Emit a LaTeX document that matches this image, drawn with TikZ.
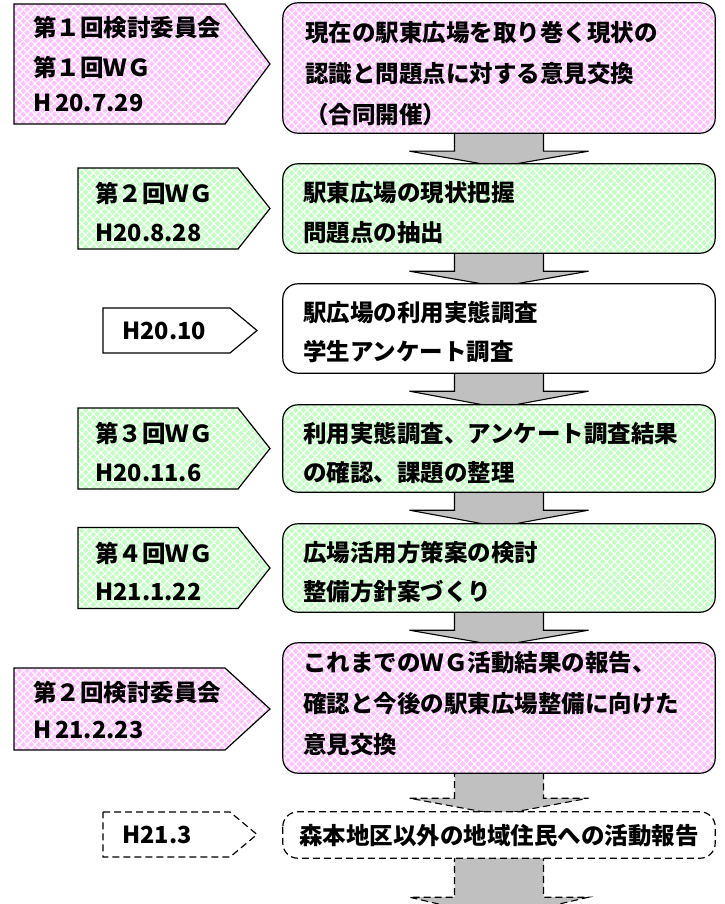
\documentclass[tikz,border=0pt]{standalone}
\usepackage{fontspec}
\setmainfont{Noto Sans CJK JP}
\usetikzlibrary{patterns.meta,calc}
\pgfdeclarelayer{bg}
\pgfsetlayers{bg,main}
\definecolor{pinkbase}{HTML}{FFC4FF}
\definecolor{greenbase}{HTML}{C4FFC4}
\definecolor{arrowgray}{HTML}{C0C0C0}
\tikzset{
  pinkfill/.style={preaction={fill=pinkbase},
    preaction={pattern={Lines[angle=45,distance=5.5pt,line width=1.1pt]},pattern color=white},
    preaction={pattern={Lines[angle=-45,distance=5.5pt,line width=1.1pt]},pattern color=white}},
  greenfill/.style={preaction={fill=greenbase},
    preaction={pattern={Lines[angle=45,distance=5.5pt,line width=1.1pt]},pattern color=white},
    preaction={pattern={Lines[angle=-45,distance=5.5pt,line width=1.1pt]},pattern color=white}},
  whitefill/.style={fill=white},
  outline/.style={draw=black,line width=1.2pt,line join=miter},
  rbox/.style={rounded corners=15pt,minimum width=432pt,inner sep=0pt},
  rline/.style={outline,rounded corners=15pt},
  dashline/.style={dash pattern=on 7pt off 4pt},
  txt/.style={inner sep=0pt,anchor=west,font=\fontsize{23.5pt}{28pt}\selectfont\bfseries},
  blockarrow/.style={fill=arrowgray,draw=black,line width=1.1pt,line join=miter}
}
\newcommand\blkarrow[4]{%
  \path[blockarrow,#4] ([xshift=-44.5pt,yshift=3pt]#1.south) -- ([xshift=-44.5pt,yshift=-#3pt]#1.south)
    -- ([xshift=-89.5pt,yshift=-#3pt]#1.south) -- ([yshift=-3pt]#2.north)
    -- ([xshift=89.5pt,yshift=-#3pt]#1.south) -- ([xshift=44.5pt,yshift=-#3pt]#1.south)
    -- ([xshift=44.5pt,yshift=3pt]#1.south);}
% pentagon: fill style, x left, x rect end, x tip, y top, y bottom, extra line style
\newcommand\pent[7]{%
  \path[#1] (#2,#5) -- (#3,#5) -- (#4,{(#5+#6)/2}) -- (#3,#6) -- (#2,#6) -- cycle;
  \draw[outline,#7] (#2,#5) -- (#3,#5) -- (#4,{(#5+#6)/2}) -- (#3,#6) -- (#2,#6) -- cycle;}
\newcommand\rframe[2]{\draw[rline,#2] (#1.north west) rectangle (#1.south east);}
\begin{document}
\begin{tikzpicture}[x=1pt,y=-1pt]
\useasboundingbox (0,0) rectangle (724,904);
% right boxes
\node[rbox,pinkfill,minimum height=130pt] (r1) at (499,68) {};
\node[rbox,greenfill,minimum height=89pt] (r2) at (499,208.5) {};
\node[rbox,whitefill,minimum height=89pt] (r3) at (499,328.5) {};
\node[rbox,greenfill,minimum height=87pt] (r4) at (499,448.5) {};
\node[rbox,greenfill,minimum height=88pt] (r5) at (499,568) {};
\node[rbox,pinkfill,minimum height=130pt] (r6) at (499,708) {};
\node[rbox,whitefill,minimum height=46pt] (r7) at (499,835) {};
\rframe{r1}{}
\rframe{r2}{}
\rframe{r3}{}
\rframe{r4}{}
\rframe{r5}{}
\rframe{r6}{}
\rframe{r7}{dashline}
\coordinate (fin) at (499,918);
% block arrows behind the boxes
\begin{pgfonlayer}{bg}
\blkarrow{r1}{r2}{18}{}
\blkarrow{r2}{r3}{18}{}
\blkarrow{r3}{r4}{18}{}
\blkarrow{r4}{r5}{18}{}
\blkarrow{r5}{r6}{18}{}
\blkarrow{r6}{r7}{25}{dashline}
\path[blockarrow,dashline] ([xshift=-44.5pt,yshift=3pt]r7.south) -- ([xshift=-44.5pt,yshift=-39pt]r7.south)
  -- ([xshift=-89.5pt,yshift=-39pt]r7.south) -- (fin)
  -- ([xshift=89.5pt,yshift=-39pt]r7.south) -- ([xshift=44.5pt,yshift=-39pt]r7.south)
  -- ([xshift=44.5pt,yshift=3pt]r7.south);
\end{pgfonlayer}
% left pentagons
\pent{pinkfill}{14}{225}{270}{4}{124}{}
\pent{greenfill}{78}{238}{270}{168}{249}{}
\pent{whitefill}{103}{230}{257}{308}{353}{}
\pent{greenfill}{78}{238}{270}{408}{489}{}
\pent{greenfill}{78}{238}{270}{527.5}{608.5}{}
\pent{pinkfill}{14}{225}{270}{668}{750}{}
\pent{whitefill}{103}{230}{257}{812}{857}{dashline}
% left texts
\node[txt] (l1a) at (33,28) {第１回検討委員会};
\node[txt] (l1b) at (33,67) {第１回ＷＧ};
\node[txt] (l1c) at (33,103) {H\,20.7.29};
\node[txt] (l2a) at (95,193) {第２回ＷＧ};
\node[txt] (l2b) at (95,233) {H20.8.28};
\node[txt] (l3a) at (122,331) {H20.10};
\node[txt] (l4a) at (95,433) {第３回ＷＧ};
\node[txt] (l4b) at (95,473) {H20.11.6};
\node[txt] (l5a) at (95,553) {第４回ＷＧ};
\node[txt] (l5b) at (95,592) {H21.1.22};
\node[txt] (l6a) at (33,693) {第２回検討委員会};
\node[txt] (l6b) at (33,730) {H\,21.2.23};
\node[txt] (l7a) at (122,835) {H21.3};
% right texts
\node[txt] (r1ta) at (305,33) {現在の駅東広場を取り巻く現状の};
\node[txt] (r1tb) at (305,74) {認識と問題点に対する意見交換};
\node[txt] (r1tc) at (305,115) {（合同開催）};
\node[txt] (r2ta) at (303,193) {駅東広場の現状把握};
\node[txt] (r2tb) at (303,233) {問題点の抽出};
\node[txt] (r3ta) at (303,313) {駅広場の利用実態調査};
\node[txt] (r3tb) at (303,352) {学生アンケート調査};
\node[txt] (r4ta) at (303,434) {利用実態調査、アンケート調査結果};
\node[txt] (r4tb) at (303,473) {の確認、課題の整理};
\node[txt] (r5ta) at (303,553) {広場活用方策案の検討};
\node[txt] (r5tb) at (303,592) {整備方針案づくり};
\node[txt] (r6ta) at (303,663) {これまでのＷＧ活動結果の報告、};
\node[txt] (r6tb) at (303,704) {確認と今後の駅東広場整備に向けた};
\node[txt] (r6tc) at (303,745) {意見交換};
\node[txt,anchor=center] (r7ta) at (499,836) {森本地区以外の地域住民への活動報告};
\end{tikzpicture}
\end{document}
